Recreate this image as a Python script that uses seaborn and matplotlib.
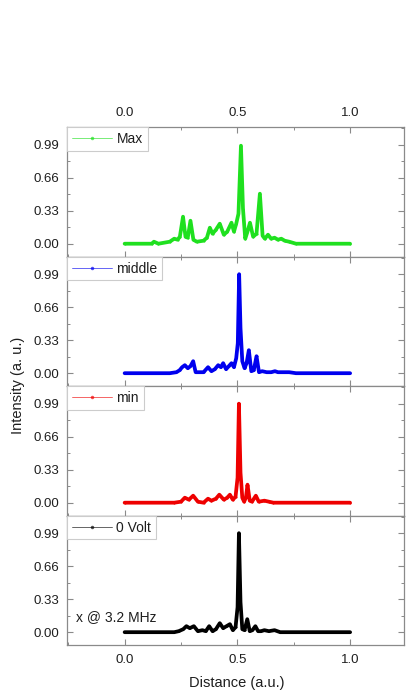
"""
Stacked intensity profiles at different drive levels
"""

import matplotlib
matplotlib.use('Agg')
import matplotlib.pyplot as plt
from matplotlib.ticker import MultipleLocator
import seaborn as sns

# ====================
# Data
# ====================
labels = ['Max', 'middle', 'min', '0 Volt']
colors = ['#1fe01f', '#0000ee', '#ee0000', '#000000']

x_max = [0.0, 0.12, 0.13, 0.15, 0.20, 0.22, 0.235, 0.245, 0.259, 0.27, 0.28, 0.292,
         0.305, 0.32, 0.35, 0.365, 0.378, 0.39, 0.405, 0.422, 0.44, 0.455, 0.474,
         0.485, 0.495, 0.505, 0.516, 0.525, 0.535, 0.545, 0.556, 0.57, 0.585, 0.60,
         0.612, 0.622, 0.636, 0.65, 0.665, 0.68, 0.695, 0.71, 0.73, 0.76, 1.0]
y_max = [0.0, 0.0, 0.02, 0.0, 0.02, 0.05, 0.04, 0.07, 0.27, 0.07, 0.06, 0.23,
         0.04, 0.02, 0.03, 0.06, 0.16, 0.10, 0.14, 0.20, 0.09, 0.12, 0.21,
         0.12, 0.20, 0.30, 0.98, 0.35, 0.05, 0.12, 0.21, 0.07, 0.10, 0.50,
         0.08, 0.05, 0.09, 0.05, 0.06, 0.04, 0.05, 0.03, 0.02, 0.0, 0.0]

x_mid = [0.0, 0.2, 0.23, 0.244, 0.255, 0.267, 0.28, 0.292, 0.304, 0.315, 0.33, 0.35,
         0.37, 0.385, 0.40, 0.415, 0.427, 0.437, 0.45, 0.462, 0.474, 0.485, 0.495,
         0.502, 0.508, 0.514, 0.522, 0.532, 0.541, 0.551, 0.562, 0.573, 0.585, 0.596,
         0.61, 0.63, 0.65, 0.667, 0.68, 0.70, 0.73, 0.76, 1.0]
y_mid = [0.0, 0.0, 0.01, 0.03, 0.06, 0.08, 0.05, 0.07, 0.12, 0.01, 0.01, 0.01,
         0.06, 0.02, 0.04, 0.08, 0.06, 0.10, 0.04, 0.07, 0.10, 0.06, 0.15,
         0.30, 0.99, 0.45, 0.12, 0.05, 0.10, 0.23, 0.02, 0.03, 0.17, 0.01,
         0.02, 0.01, 0.01, 0.02, 0.01, 0.01, 0.01, 0.0, 0.0]

x_min = [0.0, 0.22, 0.25, 0.267, 0.285, 0.304, 0.325, 0.35, 0.37, 0.385, 0.405, 0.42,
         0.44, 0.455, 0.467, 0.48, 0.492, 0.501, 0.507, 0.514, 0.522, 0.53, 0.538,
         0.545, 0.555, 0.565, 0.582, 0.595, 0.62, 0.64, 0.66, 1.0]
y_min = [0.0, 0.0, 0.01, 0.05, 0.03, 0.07, 0.01, 0.0, 0.04, 0.02, 0.04, 0.08,
         0.03, 0.05, 0.08, 0.03, 0.06, 0.25, 0.99, 0.30, 0.05, 0.01, 0.05,
         0.18, 0.02, 0.01, 0.07, 0.01, 0.02, 0.01, 0.0, 0.0]

x_zero = [0.0, 0.22, 0.24, 0.26, 0.274, 0.289, 0.307, 0.325, 0.345, 0.36, 0.375, 0.39,
          0.405, 0.422, 0.437, 0.452, 0.467, 0.48, 0.492, 0.501, 0.507, 0.514, 0.522,
          0.532, 0.544, 0.555, 0.567, 0.58, 0.592, 0.605, 0.62, 0.64, 0.665, 0.69, 1.0]
y_zero = [0.0, 0.0, 0.01, 0.03, 0.06, 0.04, 0.06, 0.01, 0.02, 0.01, 0.06, 0.01,
          0.03, 0.09, 0.04, 0.06, 0.08, 0.02, 0.05, 0.25, 0.99, 0.30, 0.03,
          0.02, 0.13, 0.01, 0.02, 0.06, 0.01, 0.01, 0.02, 0.01, 0.02, 0.0, 0.0]

series = [(x_max, y_max), (x_mid, y_mid), (x_min, y_min), (x_zero, y_zero)]

y_ticks = [0.0, 0.33, 0.66, 0.99]
x_ticks = [0.0, 0.5, 1.0]

# ====================
# Style
# ====================
sns.set_style('ticks')
plt.rcParams['font.family'] = ['Liberation Sans', 'DejaVu Sans']
spine_col = '#8a8a8a'
text_col = '#1e1e1e'

fig, axes = plt.subplots(4, 1, sharex=True, figsize=(4.07, 6.99), dpi=100)
fig.subplots_adjust(left=0.165, right=0.993, bottom=0.077, top=0.818, hspace=0)

for ax, (xs, ys), lab, col in zip(axes, series, labels, colors):
    sns.lineplot(x=xs, y=ys, ax=ax, color=col, linewidth=2.7, label=lab,
                 marker='o', markersize=1.5, markeredgewidth=0, sort=False)
    ax.set_xlim(-0.255, 1.24)
    ax.set_ylim(-0.13, 1.165)
    ax.set_xticks(x_ticks)
    ax.set_xticklabels(['0.0', '0.5', '1.0'])
    ax.xaxis.set_minor_locator(MultipleLocator(0.25))
    ax.set_yticks(y_ticks)
    ax.set_yticklabels(['0.00', '0.33', '0.66', '0.99'])
    ax.yaxis.set_minor_locator(MultipleLocator(0.165))
    ax.tick_params(which='both', direction='in', top=True, right=True,
                   color=spine_col, labelsize=9.5, labelcolor=text_col)
    ax.tick_params(which='major', length=4, width=0.8)
    ax.tick_params(which='minor', length=2.5, width=0.7)
    ax.tick_params(axis='y', pad=6)
    for sp in ax.spines.values():
        sp.set_color(spine_col)
        sp.set_linewidth(0.9)
    leg = ax.legend(loc='upper left', borderaxespad=0, fancybox=False,
                    handlelength=2.9, handletextpad=0.3, borderpad=0.35,
                    fontsize=10, framealpha=1)
    leg.get_frame().set_edgecolor('#cccccc')
    leg.get_frame().set_linewidth(0.8)
    for t in leg.get_texts():
        t.set_color(text_col)
    for h in leg.get_lines():
        h.set_linewidth(0.6)
        h.set_alpha(0.7)
        h.set_markersize(2.5)
    ax.set_xlabel('')
    ax.set_ylabel('')

axes[0].tick_params(axis='x', labeltop=True, labelbottom=False, pad=6)
axes[3].tick_params(axis='x', labelbottom=True, pad=6)

axes[3].text(-0.215, 0.15, 'x @ 3.2 MHz', fontsize=10, color=text_col, va='center')

fig.text(0.045, 0.449, 'Intensity (a. u.)', rotation=90, fontsize=10.5,
         color=text_col, ha='center', va='center')
fig.text(0.582, 0.023, 'Distance (a.u.)', fontsize=10.5, color=text_col,
         ha='center', va='center')

plt.savefig('out.png', dpi=100)
plt.close()
